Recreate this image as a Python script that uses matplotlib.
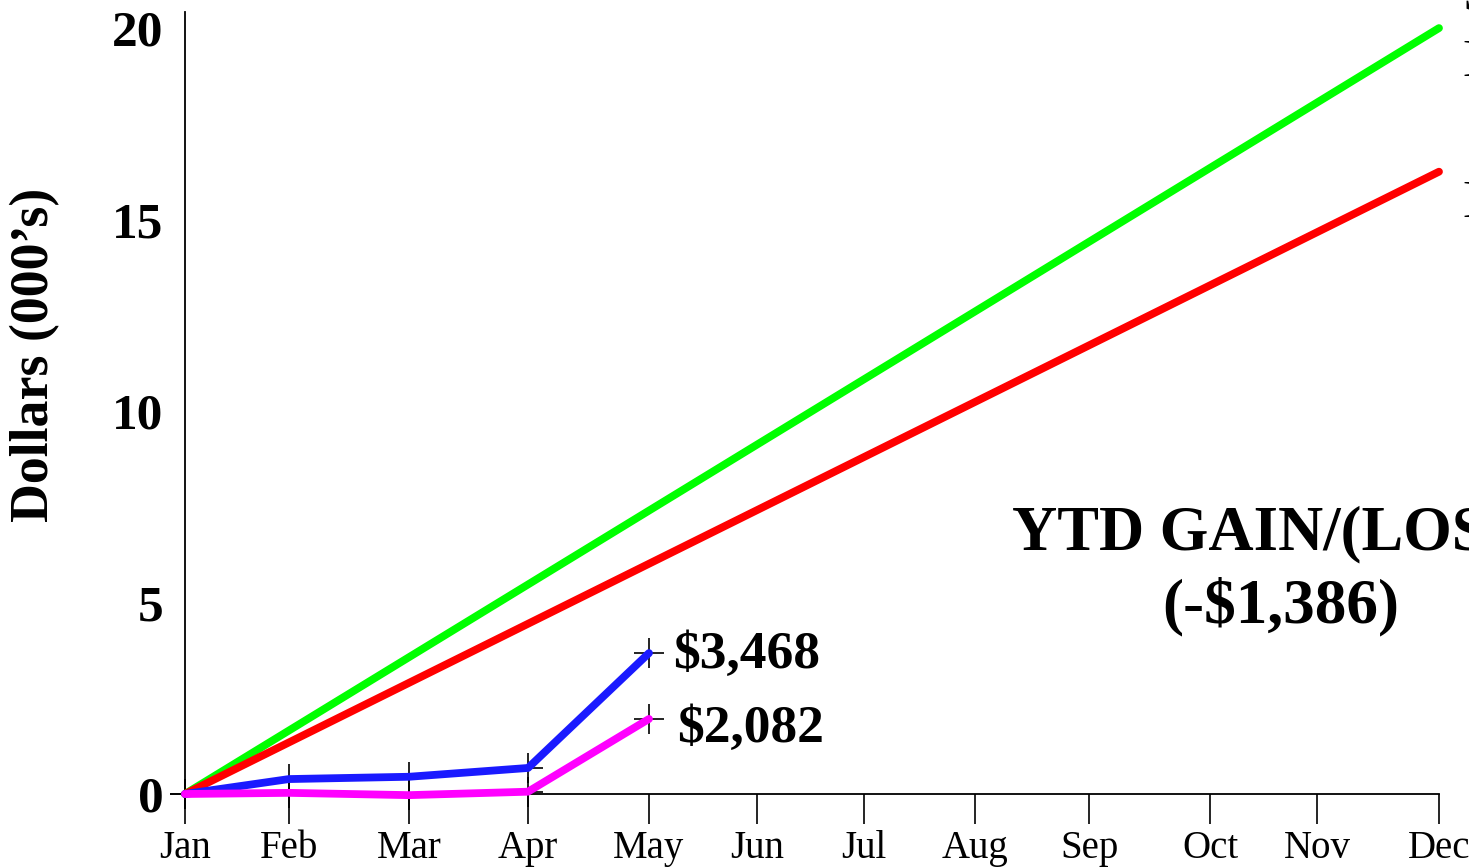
import matplotlib
matplotlib.use("Agg")
import matplotlib.pyplot as plt

# ---- data ----
months = ["Jan", "Feb", "Mar", "Apr", "May", "Jun", "Jul", "Aug", "Sep", "Oct", "Nov", "Dec"]
month_pos = [0, 0.912, 1.965, 3.009, 4.070, 5.018, 5.956, 6.930, 7.930, 8.991, 9.930, 11.0]

target_high = [0, 20.0]      # green, Jan -> Dec
target_low = [0, 16.25]      # red, Jan -> Dec
actual_blue = [0, 0.39, 0.45, 0.68, 3.68]       # Jan..May
actual_magenta = [0, 0.03, -0.03, 0.06, 1.96]   # Jan..May
end_labels = ["$3,468", "$2,082"]
ytd_title = "YTD GAIN/(LOSS)"
ytd_value = "(-$1,386)"
green_label = ["Stretch", "Budget"]
red_label = "Budget"
y_ticks = [0, 5, 10, 15, 20]

W, H = 1469, 867
fig = plt.figure(figsize=(W / 100, H / 100), dpi=100)
ax = fig.add_axes([185 / W, (H - 794) / H, (1439 - 185) / W, (794 - 12) / H])

serif = "Liberation Serif"
LW = 5.6

ax.plot([month_pos[0], month_pos[-1]], target_high, color="#00FF00", lw=LW,
        solid_capstyle="round", zorder=3, clip_on=False)
ax.plot([month_pos[0], month_pos[-1]], target_low, color="#FF0000", lw=LW,
        solid_capstyle="round", zorder=3, clip_on=False)

n = len(actual_blue)
for vals, col in [(actual_blue, "#1A1AFF"), (actual_magenta, "#FF00FF")]:
    ax.plot(month_pos[:n], vals, linestyle="none", marker="+", markersize=22,
            markeredgewidth=1.2, color="black", zorder=2, clip_on=False)
    ax.plot(month_pos[:n], vals, color=col, lw=LW, solid_capstyle="round",
            solid_joinstyle="round", zorder=4, clip_on=False)

ax.annotate(end_labels[0], xy=(month_pos[n - 1], actual_blue[-1]),
            xytext=(24, -2), textcoords="offset pixels", ha="left", va="center",
            fontsize=38.5, fontweight="bold", family=serif)
ax.annotate(end_labels[1], xy=(month_pos[n - 1], actual_magenta[-1]),
            xytext=(28, -10), textcoords="offset pixels", ha="left", va="center",
            fontsize=38.5, fontweight="bold", family=serif)

ax.set_xlim(month_pos[0], month_pos[-1])
ax.set_ylim(0, 20.42)
ax.set_xticks(month_pos)
ax.set_xticklabels(months, fontsize=28, family=serif)
ax.set_yticks(y_ticks)
ax.set_yticklabels([str(v) for v in y_ticks], fontsize=37, fontweight="bold", family=serif)
ax.tick_params(axis="x", direction="out", length=21.6, width=1.2, pad=4, colors="black")
ax.tick_params(axis="y", length=0, pad=15.5)

for s in ["top", "right"]:
    ax.spines[s].set_visible(False)
for s in ["left", "bottom"]:
    ax.spines[s].set_linewidth(1.3)
    ax.spines[s].set_color("black")
    ax.spines[s].set_zorder(1)

fig.text(35 / W, 1 - 355 / H, "Dollars (000\u2019s)", rotation=90, ha="center", va="center",
         fontsize=38.8, fontweight="bold", family=serif)

fig.text(1012 / W, 1 - 549 / H, ytd_title, ha="left", va="baseline",
         fontsize=45, fontweight="bold", family=serif)
fig.text(1281 / W, 1 - 622 / H, ytd_value, ha="center", va="baseline",
         fontsize=45.5, fontweight="bold", family=serif)

fig.text(1462 / W, 1 - 10 / H, green_label[0], ha="left", va="baseline", fontsize=38, family=serif)
fig.text(1462 / W, 1 - 76 / H, green_label[1], ha="left", va="baseline", fontsize=38, family=serif)
fig.text(1462 / W, 1 - 217 / H, red_label, ha="left", va="baseline", fontsize=38, family=serif)

fig.savefig("out.png", dpi=100)
